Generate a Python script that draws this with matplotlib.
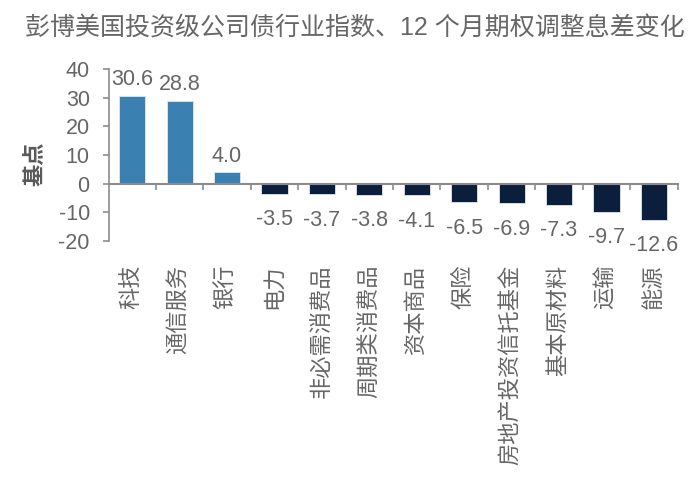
import matplotlib
matplotlib.use("Agg")
import matplotlib.pyplot as plt
from matplotlib.ticker import FixedLocator, NullFormatter
import numpy as np

plt.rcParams['font.family'] = ['Liberation Sans', 'Noto Sans CJK SC', 'DejaVu Sans']
plt.rcParams['axes.unicode_minus'] = False

title = "彭博美国投资级公司债行业指数、12 个月期权调整息差变化"
categories = ["科技", "通信服务", "银行", "电力", "非必需消费品", "周期类消费品",
              "资本商品", "保险", "房地产投资信托基金", "基本原材料", "运输", "能源"]
values = [30.6, 28.8, 4.0, -3.5, -3.7, -3.8, -4.1, -6.5, -6.9, -7.3, -9.7, -12.6]
y_ticks = [-20, -10, 0, 10, 20, 30, 40]
y_label = "基点"

pos_color = "#3A80B0"
neg_color = "#0B1F3D"
text_color = "#666666"
axis_color = "#8C8C8C"

fig = plt.figure(figsize=(7.0, 4.88), dpi=100)
ax = fig.add_axes([0.155, 0.506, 0.813, 0.353])

x = np.arange(len(categories))
colors = [pos_color if v >= 0 else neg_color for v in values]
ax.bar(x, values, width=0.55, color=colors, edgecolor="#dfe8f0", linewidth=0.6, zorder=3)

ax.set_xlim(-0.5, len(categories) - 0.5)
ax.set_ylim(-20, 40)
ax.set_yticks(y_ticks)

for s in ['top', 'right']:
    ax.spines[s].set_visible(False)
ax.spines['bottom'].set_position(('data', 0))
ax.spines['bottom'].set_color(axis_color)
ax.spines['bottom'].set_linewidth(1.5)
ax.spines['bottom'].set_zorder(4)
ax.spines['left'].set_color(axis_color)
ax.spines['left'].set_linewidth(1.2)

ax.tick_params(axis='y', direction='out', length=4.5, width=1.2, color=axis_color,
               labelsize=15.5, labelcolor=text_color, pad=9)
ax.set_xticks(x)
ax.xaxis.set_major_formatter(NullFormatter())
ax.tick_params(axis='x', which='major', length=0)
ax.xaxis.set_minor_locator(FixedLocator(np.arange(len(categories)) + 0.5))
ax.tick_params(axis='x', which='minor', direction='out', length=4.5, width=1.2, color=axis_color)

for xi, v, cat in zip(x, values, categories):
    if v >= 0:
        ax.annotate(f"{v:.1f}", xy=(xi, v), xytext=(0, 4), textcoords='offset points',
                    ha='center', va='bottom', fontsize=15.5, color=text_color)
    else:
        ax.annotate(f"{v:.1f}", xy=(xi, v), xytext=(0, -11), textcoords='offset points',
                    ha='center', va='top', fontsize=15.5, color=text_color)
    ax.annotate(cat, xy=(xi, 0), xycoords=('data', 'axes fraction'),
                xytext=(0, -17), textcoords='offset points', rotation=90,
                ha='center', va='top', fontsize=16, color=text_color)

fig.text(0.052, 0.665, y_label, rotation=90, ha='center', va='center',
         fontsize=16, fontweight='bold', color="#595959")

fig.text(0.036, 0.942, title, ha='left', va='center', fontsize=18, color=text_color)

fig.savefig("out.png", dpi=100, facecolor='white')
